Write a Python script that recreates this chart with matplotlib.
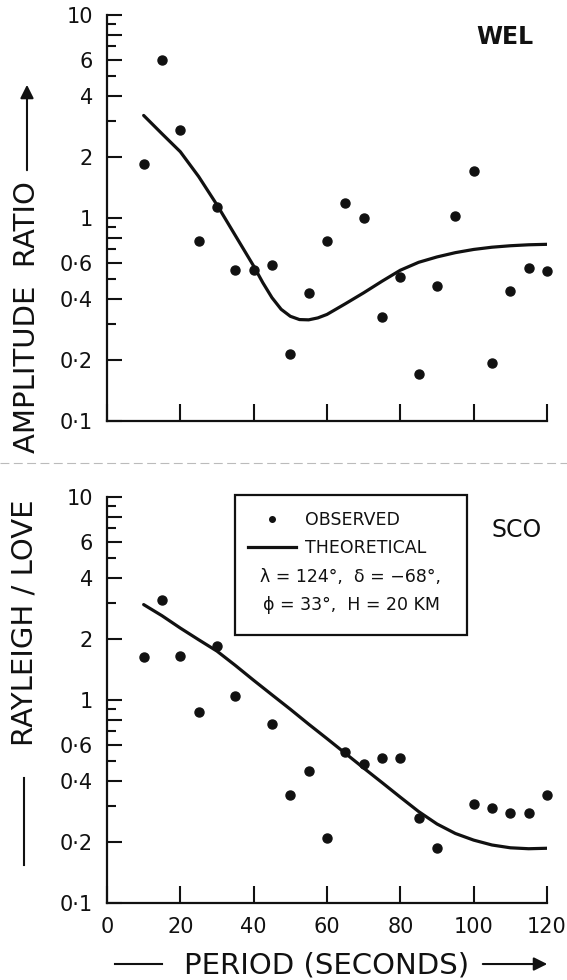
import matplotlib
matplotlib.use("Agg")
import matplotlib.pyplot as plt
from matplotlib.lines import Line2D
from matplotlib.patches import Rectangle, FancyArrowPatch
from matplotlib.ticker import FixedLocator, FixedFormatter, NullFormatter

plt.rcParams['font.family'] = ['DejaVu Sans']
plt.rcParams['text.color'] = '#111111'

# --- data ---
# WEL (upper panel)
period_wel = [10, 15, 20, 25, 30, 35, 40, 45, 50, 55, 60, 65, 70, 75, 80, 85, 90, 95, 100, 105, 110, 115, 120]
obs_wel = [1.85, 6.0, 2.7, 0.77, 1.13, 0.555, 0.555, 0.586, 0.215, 0.428, 0.767, 1.18, 1.0,
           0.324, 0.514, 0.171, 0.46, 1.02, 1.71, 0.193, 0.435, 0.567, 0.546]
theo_period_wel = [10, 15, 20, 25, 30, 35, 40, 42.5, 45, 47.5, 50, 52.5, 55, 57.5, 60, 65, 70,
                   75, 80, 85, 90, 95, 100, 105, 110, 115, 120]
theo_wel = [3.2, 2.6, 2.12, 1.6, 1.16, 0.82, 0.58, 0.48, 0.405, 0.355, 0.328, 0.316, 0.315,
            0.322, 0.335, 0.378, 0.428, 0.488, 0.553, 0.605, 0.643, 0.675, 0.70, 0.718, 0.73,
            0.738, 0.742]

# SCO (lower panel)
period_sco = [10, 15, 20, 25, 30, 35, 45, 50, 55, 60, 65, 70, 75, 80, 85, 90, 100, 105, 110, 115, 120]
obs_sco = [1.62, 3.1, 1.64, 0.87, 1.84, 1.05, 0.765, 0.339, 0.449, 0.208, 0.557, 0.486, 0.518,
           0.518, 0.261, 0.187, 0.309, 0.294, 0.276, 0.276, 0.339]
theo_period_sco = [10, 15, 20, 25, 30, 35, 40, 45, 50, 55, 60, 65, 70, 75, 80, 85, 90, 95, 100,
                   105, 110, 115, 120]
theo_sco = [2.95, 2.6, 2.26, 1.98, 1.74, 1.48, 1.25, 1.06, 0.9, 0.76, 0.645, 0.546, 0.462,
            0.392, 0.332, 0.282, 0.245, 0.22, 0.204, 0.193, 0.187, 0.185, 0.186]

x_ticks = [0, 20, 40, 60, 80, 100, 120]
y_major = [0.1, 0.2, 0.4, 0.6, 0.8, 1, 2, 4, 6, 8, 10]
y_labels = ['0·1', '0·2', '0·4', '0·6', '', '1', '2', '4', '6', '', '10']
y_minor = [0.3, 0.5, 0.7, 0.9, 3, 5, 7, 9]

ink = '#111111'

fig = plt.figure(figsize=(5.67, 9.8), dpi=100)
ax1 = fig.add_axes([0.1887, 0.5704, 0.776, 0.4143])
ax2 = fig.add_axes([0.1887, 0.0786, 0.776, 0.4143])


def style_axis(ax, show_xlabels):
    ax.set_yscale('log')
    ax.set_xlim(0, 120)
    ax.set_ylim(0.1, 10)
    for s in ['top', 'right']:
        ax.spines[s].set_visible(False)
    for s in ['left', 'bottom']:
        ax.spines[s].set_linewidth(1.6)
        ax.spines[s].set_color(ink)
    ax.yaxis.set_major_locator(FixedLocator(y_major))
    ax.yaxis.set_major_formatter(FixedFormatter(y_labels))
    ax.yaxis.set_minor_locator(FixedLocator(y_minor))
    ax.yaxis.set_minor_formatter(NullFormatter())
    ax.set_xticks(x_ticks)
    if show_xlabels:
        ax.set_xticklabels([str(v) for v in x_ticks])
    else:
        ax.set_xticklabels([])
    ax.tick_params(axis='y', which='major', direction='in', length=11, width=1.5,
                   labelsize=15, pad=10, colors=ink)
    ax.tick_params(axis='y', which='minor', direction='in', length=6.5, width=1.5, colors=ink)
    ax.tick_params(axis='x', which='major', direction='in', length=12, width=1.5,
                   labelsize=15, pad=10, colors=ink)


style_axis(ax1, False)
style_axis(ax2, True)

# upper panel
ax1.plot(theo_period_wel, theo_wel, color=ink, lw=2.3, solid_capstyle='round',
         solid_joinstyle='round')
ax1.plot(period_wel, obs_wel, ls='none', marker='o', ms=6.5, color=ink, clip_on=False)
ax1.text(0.905, 0.946, 'WEL', transform=ax1.transAxes, ha='center', va='center',
         fontsize=17, fontweight='bold')

# lower panel
ax2.plot(theo_period_sco, theo_sco, color=ink, lw=2.3, solid_capstyle='round',
         solid_joinstyle='round')
ax2.plot(period_sco, obs_sco, ls='none', marker='o', ms=6.5, color=ink, clip_on=False)
ax2.text(0.932, 0.919, 'SCO', transform=ax2.transAxes, ha='center', va='center', fontsize=17)

# legend box
ax2.add_patch(Rectangle((0.291, 0.66), 0.527, 0.345, transform=ax2.transAxes, fill=False,
                        lw=1.6, edgecolor=ink, clip_on=False))
handles = [Line2D([], [], ls='none', marker='o', ms=4, color=ink),
           Line2D([], [], color=ink, lw=2.3)]
ax2.legend(handles, ['OBSERVED', 'THEORETICAL'], loc='upper left',
           bbox_to_anchor=(0.32, 0.966), frameon=False, borderpad=0, borderaxespad=0,
           handlelength=2.8, handletextpad=0.5, labelspacing=0.6, fontsize=12.5)
ax2.text(0.348, 0.803, 'λ = 124°,  δ = −68°,', transform=ax2.transAxes,
         ha='left', va='center', fontsize=12.5)
ax2.text(0.355, 0.734, 'ϕ = 33°,  H = 20 KM', transform=ax2.transAxes,
         ha='left', va='center', fontsize=12.5)

# axis labels with their arrows
fig.text(0.0476, 0.6765, 'AMPLITUDE  RATIO', rotation=90, ha='center', va='center', fontsize=21)
fig.add_artist(FancyArrowPatch((0.0476, 0.8235), (0.0476, 0.9163), transform=fig.transFigure,
                               arrowstyle='-|>', mutation_scale=20, lw=1.5, color=ink))
fig.text(0.044, 0.3643, 'RAYLEIGH / LOVE', rotation=90, ha='center', va='center', fontsize=21)
fig.add_artist(Line2D([0.0423, 0.0423], [0.1173, 0.2061], transform=fig.transFigure,
                      lw=1.5, color=ink))

fig.text(0.5767, 0.0153, 'PERIOD (SECONDS)', ha='center', va='center', fontsize=21)
fig.add_artist(Line2D([0.2028, 0.2857], [0.0163, 0.0163], transform=fig.transFigure,
                      lw=1.5, color=ink))
fig.add_artist(FancyArrowPatch((0.8466, 0.0163), (0.97, 0.0163), transform=fig.transFigure,
                               arrowstyle='-|>', mutation_scale=20, lw=1.5, color=ink))

# faint fold line between the panels
fig.add_artist(Line2D([0.0, 1.0], [0.5276, 0.5276], transform=fig.transFigure,
                      lw=0.8, color='#bbbbbb', ls=(0, (8, 4))))

plt.savefig('out.png', dpi=100)
